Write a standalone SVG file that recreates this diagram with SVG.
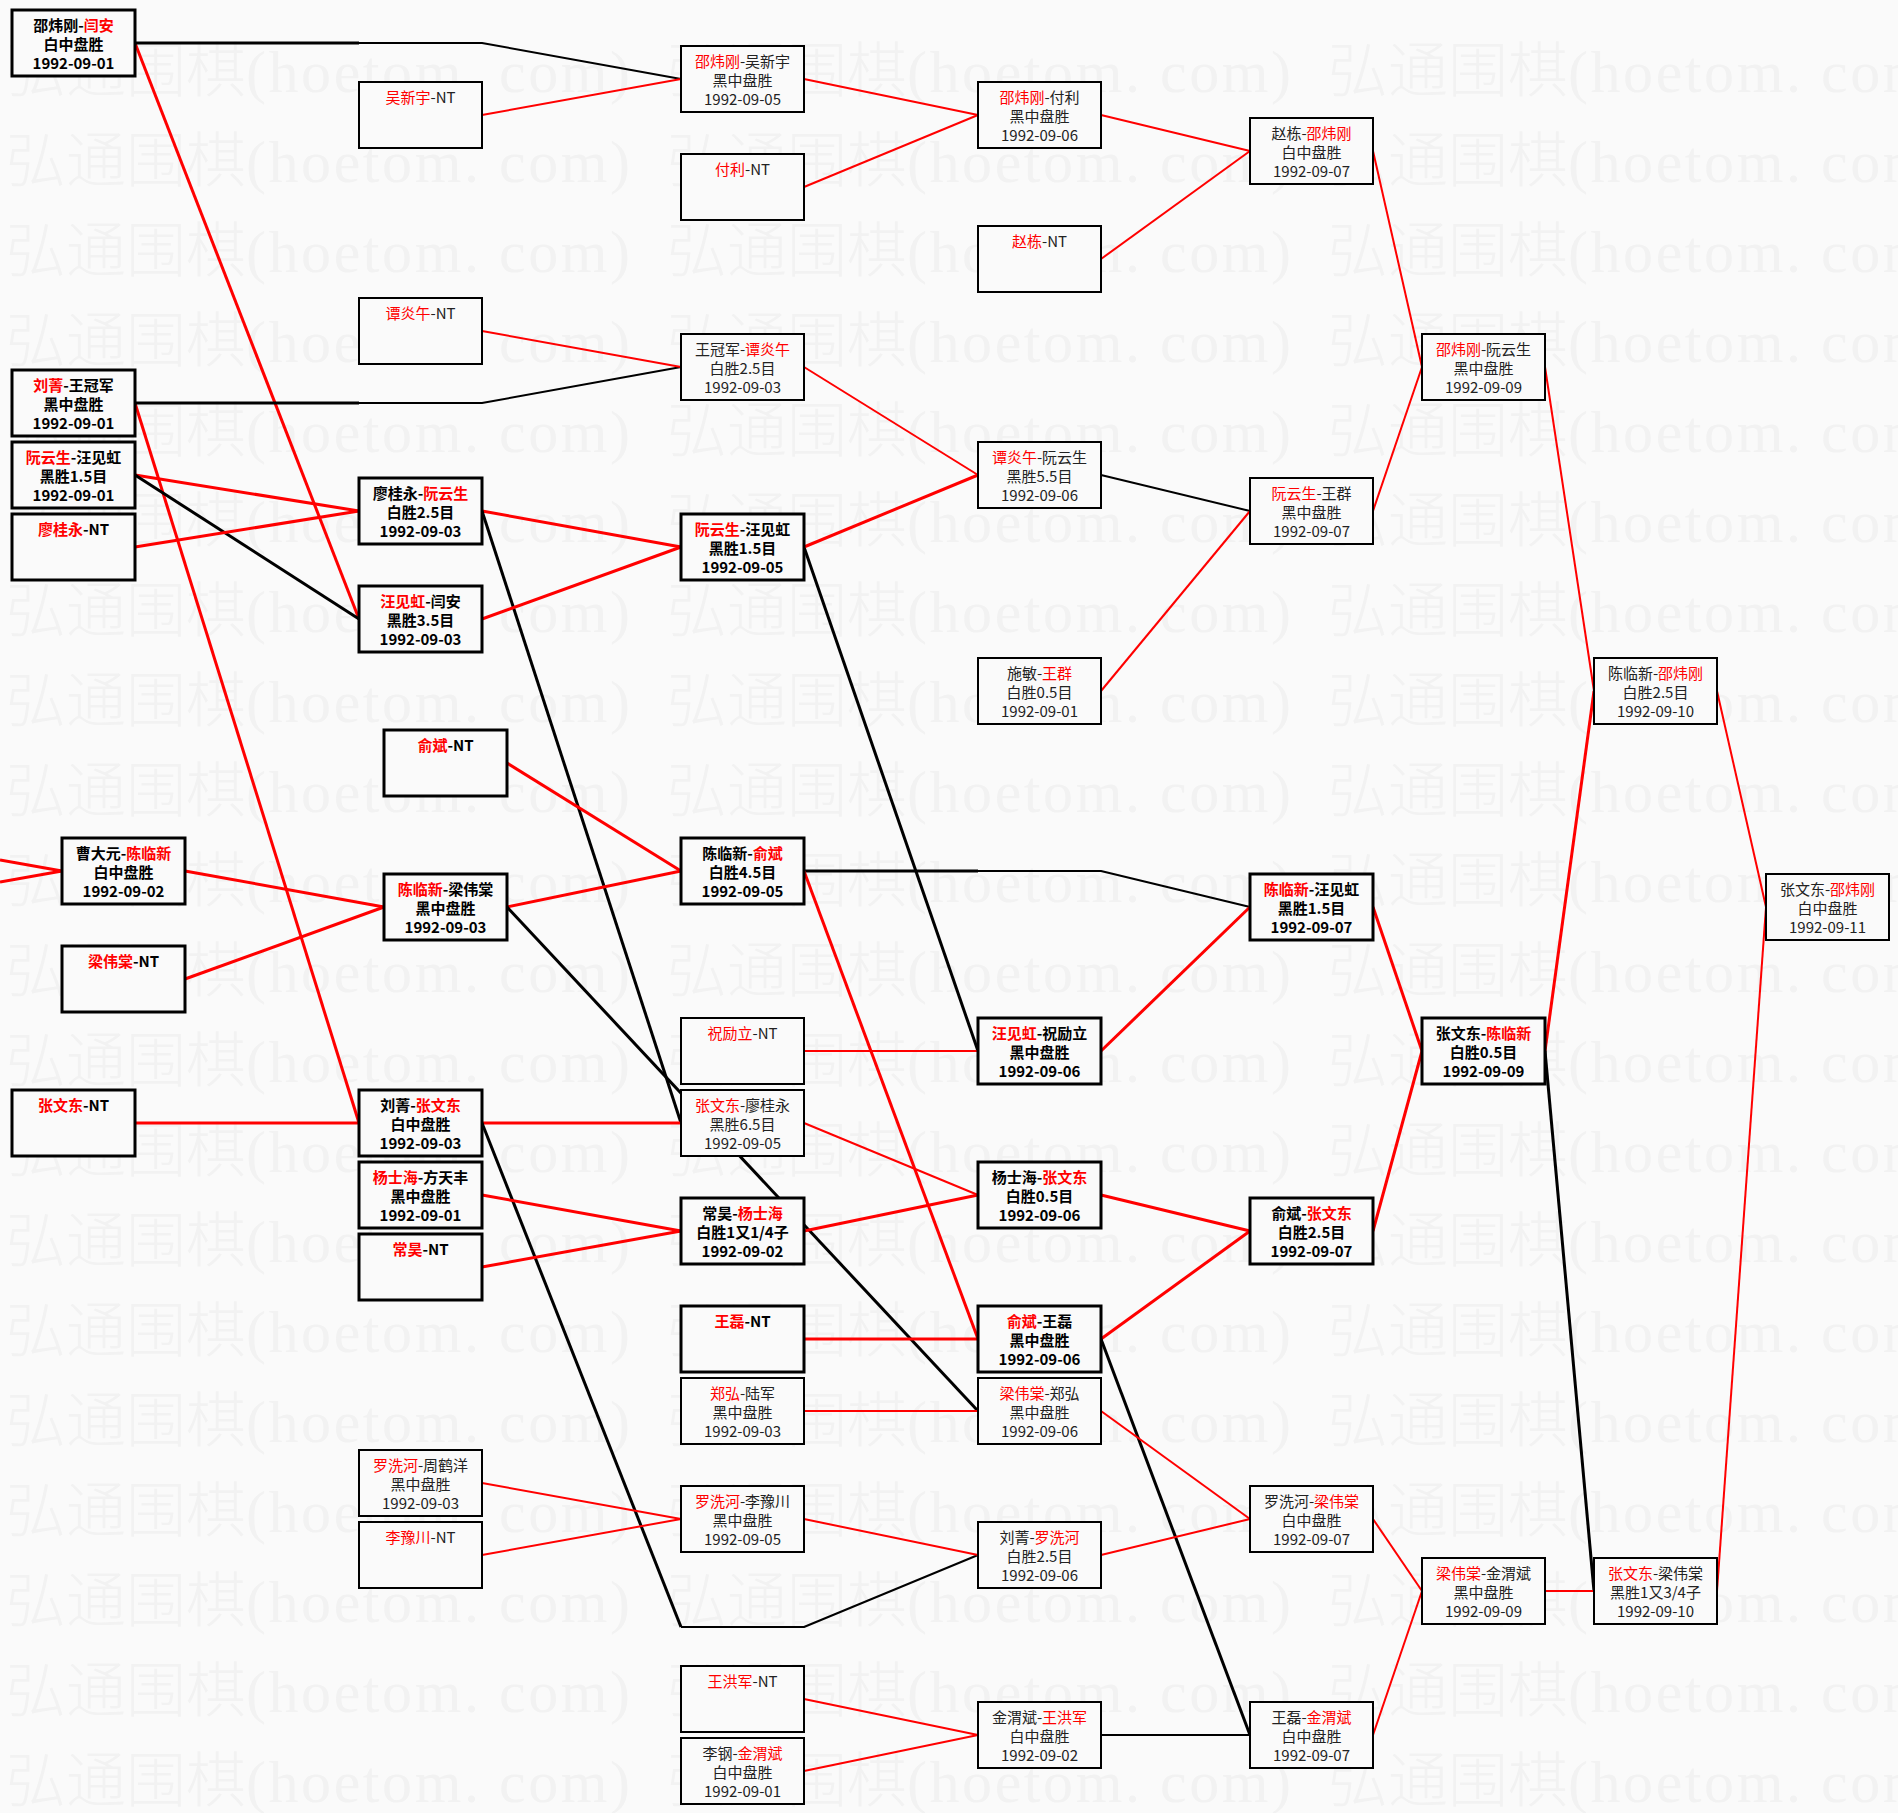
<svg xmlns="http://www.w3.org/2000/svg" width="1898" height="1813" viewBox="0 0 1898 1813">
<style>
.bg{fill:#fafafa}
.wm{font-family:"Noto Sans CJK SC","Liberation Serif",serif;font-size:60px;font-weight:200;fill:#f2f2f2}
.wml{font-family:"Liberation Serif",serif}
.node rect{fill:#fafafa;stroke:#000}
.tk rect{stroke-width:3}
.tn rect{stroke-width:2}
.node text{font-family:"Noto Sans CJK SC","Noto Sans",sans-serif;font-size:15px;text-anchor:middle;fill:#222}
.tk text{font-weight:bold;fill:#000}
.node text .r{fill:#f00}
.cn path{fill:none;stroke-linejoin:round}
.R{stroke:#f00}
.K{stroke:#000}
.w3{stroke-width:3}
.w2{stroke-width:2}
</style>
<defs>
<pattern id="wmp" patternUnits="userSpaceOnUse" x="6" y="32" width="661" height="90">
<text class="wm" x="0" y="60">弘通围棋<tspan class="wml" textLength="384" lengthAdjust="spacing">(hoetom. com)</tspan></text>
</pattern>
</defs>
<rect class="bg" x="0" y="0" width="1898" height="1813"/>
<rect x="0" y="32" width="1898" height="1781" fill="url(#wmp)"/>

<g id="connectors" class="cn">
<path class="R w3" d="M135,43 L359,619"/>
<path class="K w3" d="M135,43 H359"/>
<path class="K w2" d="M359,43 H482 L681,79"/>
<path class="R w3" d="M135,403 L359,1123"/>
<path class="K w3" d="M135,403 H359"/>
<path class="K w2" d="M359,403 H482 L681,367"/>
<path class="R w3" d="M135,475 L359,511"/>
<path class="K w3" d="M135,475 L359,619"/>
<path class="R w3" d="M135,547 L359,511"/>
<path class="R w3" d="M135,1123 H359"/>
<path class="R w3" d="M0,860 L62,871"/>
<path class="R w3" d="M0,882 L62,871"/>
<path class="R w3" d="M185,871 L384,907"/>
<path class="R w3" d="M185,979 L384,907"/>
<path class="R w3" d="M482,511 L681,547"/>
<path class="K w3" d="M482,511 L681,1123"/>
<path class="R w3" d="M482,619 L681,547"/>
<path class="R w3" d="M482,1123 H681"/>
<path class="K w3" d="M482,1123 L681,1627"/>
<path class="K w2" d="M681,1627 H804 L978,1555"/>
<path class="R w3" d="M482,1195 L681,1231"/>
<path class="R w3" d="M482,1267 L681,1231"/>
<path class="R w3" d="M507,763 L681,871"/>
<path class="R w3" d="M507,907 L681,871"/>
<path class="K w3" d="M507,907 L978,1411"/>
<path class="K w3" d="M804,547 L978,1051"/>
<path class="R w3" d="M804,547 L978,475"/>
<path class="K w3" d="M804,871 H978"/>
<path class="K w2" d="M978,871 H1101 L1250,907"/>
<path class="R w3" d="M804,871 L978,1339"/>
<path class="R w3" d="M804,1231 L978,1195"/>
<path class="R w3" d="M804,1339 H978"/>
<path class="R w3" d="M1101,1051 L1250,907"/>
<path class="R w3" d="M1101,1195 L1250,1231"/>
<path class="R w3" d="M1101,1339 L1250,1231"/>
<path class="K w3" d="M1101,1339 L1250,1735"/>
<path class="R w3" d="M1373,907 L1422,1051"/>
<path class="R w3" d="M1373,1231 L1422,1051"/>
<path class="R w3" d="M1545,1051 L1594,691"/>
<path class="K w3" d="M1545,1051 L1594,1591"/>
<path class="R w2" d="M482,115 L681,79"/>
<path class="R w2" d="M482,331 L681,367"/>
<path class="R w2" d="M482,1483 L681,1519"/>
<path class="R w2" d="M482,1555 L681,1519"/>
<path class="R w2" d="M804,79 L978,115"/>
<path class="R w2" d="M804,187 L978,115"/>
<path class="R w2" d="M804,367 L978,475"/>
<path class="R w2" d="M804,1051 H978"/>
<path class="R w2" d="M804,1123 L978,1195"/>
<path class="R w2" d="M804,1411 H978"/>
<path class="R w2" d="M804,1519 L978,1555"/>
<path class="R w2" d="M804,1699 L978,1735"/>
<path class="R w2" d="M804,1771 L978,1735"/>
<path class="R w2" d="M1101,115 L1250,151"/>
<path class="R w2" d="M1101,259 L1250,151"/>
<path class="K w2" d="M1101,475 L1250,511"/>
<path class="R w2" d="M1101,691 L1250,511"/>
<path class="R w2" d="M1101,1411 L1250,1519"/>
<path class="R w2" d="M1101,1555 L1250,1519"/>
<path class="K w2" d="M1101,1735 H1250"/>
<path class="R w2" d="M1373,151 L1422,367"/>
<path class="R w2" d="M1373,511 L1422,367"/>
<path class="R w2" d="M1373,1519 L1422,1591"/>
<path class="R w2" d="M1373,1735 L1422,1591"/>
<path class="R w2" d="M1545,367 L1594,691"/>
<path class="R w2" d="M1545,1591 H1594"/>
<path class="R w2" d="M1717,691 L1766,907"/>
<path class="R w2" d="M1717,1591 L1766,907"/>
</g>

<g id="nA1" class="node tk" transform="translate(12,10)"><rect width="123" height="66"/><text x="61.5" y="21">邵炜刚-<tspan class="r">闫安</tspan></text><text x="61.5" y="40">白中盘胜</text><text x="61.5" y="59">1992-09-01</text></g>
<g id="nA2" class="node tk" transform="translate(12,370)"><rect width="123" height="66"/><text x="61.5" y="21"><tspan class="r">刘菁</tspan>-王冠军</text><text x="61.5" y="40">黑中盘胜</text><text x="61.5" y="59">1992-09-01</text></g>
<g id="nA3" class="node tk" transform="translate(12,442)"><rect width="123" height="66"/><text x="61.5" y="21"><tspan class="r">阮云生</tspan>-汪见虹</text><text x="61.5" y="40">黑胜1.5目</text><text x="61.5" y="59">1992-09-01</text></g>
<g id="nA4" class="node tk" transform="translate(12,514)"><rect width="123" height="66"/><text x="61.5" y="21"><tspan class="r">廖桂永</tspan>-NT</text></g>
<g id="nA5" class="node tk" transform="translate(12,1090)"><rect width="123" height="66"/><text x="61.5" y="21"><tspan class="r">张文东</tspan>-NT</text></g>
<g id="nB1" class="node tk" transform="translate(62,838)"><rect width="123" height="66"/><text x="61.5" y="21">曹大元-<tspan class="r">陈临新</tspan></text><text x="61.5" y="40">白中盘胜</text><text x="61.5" y="59">1992-09-02</text></g>
<g id="nB2" class="node tk" transform="translate(62,946)"><rect width="123" height="66"/><text x="61.5" y="21"><tspan class="r">梁伟棠</tspan>-NT</text></g>

<g id="nC1" class="node tn" transform="translate(359,82)"><rect width="123" height="66"/><text x="61.5" y="21"><tspan class="r">吴新宇</tspan>-NT</text></g>
<g id="nC2" class="node tn" transform="translate(359,298)"><rect width="123" height="66"/><text x="61.5" y="21"><tspan class="r">谭炎午</tspan>-NT</text></g>
<g id="nC3" class="node tk" transform="translate(359,478)"><rect width="123" height="66"/><text x="61.5" y="21">廖桂永-<tspan class="r">阮云生</tspan></text><text x="61.5" y="40">白胜2.5目</text><text x="61.5" y="59">1992-09-03</text></g>
<g id="nC4" class="node tk" transform="translate(359,586)"><rect width="123" height="66"/><text x="61.5" y="21"><tspan class="r">汪见虹</tspan>-闫安</text><text x="61.5" y="40">黑胜3.5目</text><text x="61.5" y="59">1992-09-03</text></g>
<g id="nC5" class="node tk" transform="translate(359,1090)"><rect width="123" height="66"/><text x="61.5" y="21">刘菁-<tspan class="r">张文东</tspan></text><text x="61.5" y="40">白中盘胜</text><text x="61.5" y="59">1992-09-03</text></g>
<g id="nC6" class="node tk" transform="translate(359,1162)"><rect width="123" height="66"/><text x="61.5" y="21"><tspan class="r">杨士海</tspan>-方天丰</text><text x="61.5" y="40">黑中盘胜</text><text x="61.5" y="59">1992-09-01</text></g>
<g id="nC7" class="node tk" transform="translate(359,1234)"><rect width="123" height="66"/><text x="61.5" y="21"><tspan class="r">常昊</tspan>-NT</text></g>
<g id="nC8" class="node tn" transform="translate(359,1450)"><rect width="123" height="66"/><text x="61.5" y="21"><tspan class="r">罗洗河</tspan>-周鹤洋</text><text x="61.5" y="40">黑中盘胜</text><text x="61.5" y="59">1992-09-03</text></g>
<g id="nC9" class="node tn" transform="translate(359,1522)"><rect width="123" height="66"/><text x="61.5" y="21"><tspan class="r">李豫川</tspan>-NT</text></g>
<g id="nD1" class="node tk" transform="translate(384,730)"><rect width="123" height="66"/><text x="61.5" y="21"><tspan class="r">俞斌</tspan>-NT</text></g>
<g id="nD2" class="node tk" transform="translate(384,874)"><rect width="123" height="66"/><text x="61.5" y="21"><tspan class="r">陈临新</tspan>-梁伟棠</text><text x="61.5" y="40">黑中盘胜</text><text x="61.5" y="59">1992-09-03</text></g>

<g id="nE1" class="node tn" transform="translate(681,46)"><rect width="123" height="66"/><text x="61.5" y="21"><tspan class="r">邵炜刚</tspan>-吴新宇</text><text x="61.5" y="40">黑中盘胜</text><text x="61.5" y="59">1992-09-05</text></g>
<g id="nE2" class="node tn" transform="translate(681,154)"><rect width="123" height="66"/><text x="61.5" y="21"><tspan class="r">付利</tspan>-NT</text></g>
<g id="nE3" class="node tn" transform="translate(681,334)"><rect width="123" height="66"/><text x="61.5" y="21">王冠军-<tspan class="r">谭炎午</tspan></text><text x="61.5" y="40">白胜2.5目</text><text x="61.5" y="59">1992-09-03</text></g>
<g id="nE4" class="node tk" transform="translate(681,514)"><rect width="123" height="66"/><text x="61.5" y="21"><tspan class="r">阮云生</tspan>-汪见虹</text><text x="61.5" y="40">黑胜1.5目</text><text x="61.5" y="59">1992-09-05</text></g>
<g id="nE5" class="node tk" transform="translate(681,838)"><rect width="123" height="66"/><text x="61.5" y="21">陈临新-<tspan class="r">俞斌</tspan></text><text x="61.5" y="40">白胜4.5目</text><text x="61.5" y="59">1992-09-05</text></g>
<g id="nE6" class="node tn" transform="translate(681,1018)"><rect width="123" height="66"/><text x="61.5" y="21"><tspan class="r">祝励立</tspan>-NT</text></g>
<g id="nE7" class="node tn" transform="translate(681,1090)"><rect width="123" height="66"/><text x="61.5" y="21"><tspan class="r">张文东</tspan>-廖桂永</text><text x="61.5" y="40">黑胜6.5目</text><text x="61.5" y="59">1992-09-05</text></g>
<g id="nE8" class="node tk" transform="translate(681,1198)"><rect width="123" height="66"/><text x="61.5" y="21">常昊-<tspan class="r">杨士海</tspan></text><text x="61.5" y="40">白胜1又1/4子</text><text x="61.5" y="59">1992-09-02</text></g>
<g id="nE9" class="node tk" transform="translate(681,1306)"><rect width="123" height="66"/><text x="61.5" y="21"><tspan class="r">王磊</tspan>-NT</text></g>
<g id="nE10" class="node tn" transform="translate(681,1378)"><rect width="123" height="66"/><text x="61.5" y="21"><tspan class="r">郑弘</tspan>-陆军</text><text x="61.5" y="40">黑中盘胜</text><text x="61.5" y="59">1992-09-03</text></g>
<g id="nE11" class="node tn" transform="translate(681,1486)"><rect width="123" height="66"/><text x="61.5" y="21"><tspan class="r">罗洗河</tspan>-李豫川</text><text x="61.5" y="40">黑中盘胜</text><text x="61.5" y="59">1992-09-05</text></g>
<g id="nE12" class="node tn" transform="translate(681,1666)"><rect width="123" height="66"/><text x="61.5" y="21"><tspan class="r">王洪军</tspan>-NT</text></g>
<g id="nE13" class="node tn" transform="translate(681,1738)"><rect width="123" height="66"/><text x="61.5" y="21">李钢-<tspan class="r">金渭斌</tspan></text><text x="61.5" y="40">白中盘胜</text><text x="61.5" y="59">1992-09-01</text></g>

<g id="nF1" class="node tn" transform="translate(978,82)"><rect width="123" height="66"/><text x="61.5" y="21"><tspan class="r">邵炜刚</tspan>-付利</text><text x="61.5" y="40">黑中盘胜</text><text x="61.5" y="59">1992-09-06</text></g>
<g id="nF2" class="node tn" transform="translate(978,226)"><rect width="123" height="66"/><text x="61.5" y="21"><tspan class="r">赵栋</tspan>-NT</text></g>
<g id="nF3" class="node tn" transform="translate(978,442)"><rect width="123" height="66"/><text x="61.5" y="21"><tspan class="r">谭炎午</tspan>-阮云生</text><text x="61.5" y="40">黑胜5.5目</text><text x="61.5" y="59">1992-09-06</text></g>
<g id="nF4" class="node tn" transform="translate(978,658)"><rect width="123" height="66"/><text x="61.5" y="21">施敏-<tspan class="r">王群</tspan></text><text x="61.5" y="40">白胜0.5目</text><text x="61.5" y="59">1992-09-01</text></g>
<g id="nF5" class="node tk" transform="translate(978,1018)"><rect width="123" height="66"/><text x="61.5" y="21"><tspan class="r">汪见虹</tspan>-祝励立</text><text x="61.5" y="40">黑中盘胜</text><text x="61.5" y="59">1992-09-06</text></g>
<g id="nF6" class="node tk" transform="translate(978,1162)"><rect width="123" height="66"/><text x="61.5" y="21">杨士海-<tspan class="r">张文东</tspan></text><text x="61.5" y="40">白胜0.5目</text><text x="61.5" y="59">1992-09-06</text></g>
<g id="nF7" class="node tk" transform="translate(978,1306)"><rect width="123" height="66"/><text x="61.5" y="21"><tspan class="r">俞斌</tspan>-王磊</text><text x="61.5" y="40">黑中盘胜</text><text x="61.5" y="59">1992-09-06</text></g>
<g id="nF8" class="node tn" transform="translate(978,1378)"><rect width="123" height="66"/><text x="61.5" y="21"><tspan class="r">梁伟棠</tspan>-郑弘</text><text x="61.5" y="40">黑中盘胜</text><text x="61.5" y="59">1992-09-06</text></g>
<g id="nF9" class="node tn" transform="translate(978,1522)"><rect width="123" height="66"/><text x="61.5" y="21">刘菁-<tspan class="r">罗洗河</tspan></text><text x="61.5" y="40">白胜2.5目</text><text x="61.5" y="59">1992-09-06</text></g>
<g id="nF10" class="node tn" transform="translate(978,1702)"><rect width="123" height="66"/><text x="61.5" y="21">金渭斌-<tspan class="r">王洪军</tspan></text><text x="61.5" y="40">白中盘胜</text><text x="61.5" y="59">1992-09-02</text></g>

<g id="nG1" class="node tn" transform="translate(1250,118)"><rect width="123" height="66"/><text x="61.5" y="21">赵栋-<tspan class="r">邵炜刚</tspan></text><text x="61.5" y="40">白中盘胜</text><text x="61.5" y="59">1992-09-07</text></g>
<g id="nG2" class="node tn" transform="translate(1250,478)"><rect width="123" height="66"/><text x="61.5" y="21"><tspan class="r">阮云生</tspan>-王群</text><text x="61.5" y="40">黑中盘胜</text><text x="61.5" y="59">1992-09-07</text></g>
<g id="nG3" class="node tk" transform="translate(1250,874)"><rect width="123" height="66"/><text x="61.5" y="21"><tspan class="r">陈临新</tspan>-汪见虹</text><text x="61.5" y="40">黑胜1.5目</text><text x="61.5" y="59">1992-09-07</text></g>
<g id="nG4" class="node tk" transform="translate(1250,1198)"><rect width="123" height="66"/><text x="61.5" y="21">俞斌-<tspan class="r">张文东</tspan></text><text x="61.5" y="40">白胜2.5目</text><text x="61.5" y="59">1992-09-07</text></g>
<g id="nG5" class="node tn" transform="translate(1250,1486)"><rect width="123" height="66"/><text x="61.5" y="21">罗洗河-<tspan class="r">梁伟棠</tspan></text><text x="61.5" y="40">白中盘胜</text><text x="61.5" y="59">1992-09-07</text></g>
<g id="nG6" class="node tn" transform="translate(1250,1702)"><rect width="123" height="66"/><text x="61.5" y="21">王磊-<tspan class="r">金渭斌</tspan></text><text x="61.5" y="40">白中盘胜</text><text x="61.5" y="59">1992-09-07</text></g>

<g id="nH1" class="node tn" transform="translate(1422,334)"><rect width="123" height="66"/><text x="61.5" y="21"><tspan class="r">邵炜刚</tspan>-阮云生</text><text x="61.5" y="40">黑中盘胜</text><text x="61.5" y="59">1992-09-09</text></g>
<g id="nH2" class="node tk" transform="translate(1422,1018)"><rect width="123" height="66"/><text x="61.5" y="21">张文东-<tspan class="r">陈临新</tspan></text><text x="61.5" y="40">白胜0.5目</text><text x="61.5" y="59">1992-09-09</text></g>
<g id="nH3" class="node tn" transform="translate(1422,1558)"><rect width="123" height="66"/><text x="61.5" y="21"><tspan class="r">梁伟棠</tspan>-金渭斌</text><text x="61.5" y="40">黑中盘胜</text><text x="61.5" y="59">1992-09-09</text></g>

<g id="nI1" class="node tn" transform="translate(1594,658)"><rect width="123" height="66"/><text x="61.5" y="21">陈临新-<tspan class="r">邵炜刚</tspan></text><text x="61.5" y="40">白胜2.5目</text><text x="61.5" y="59">1992-09-10</text></g>
<g id="nI2" class="node tn" transform="translate(1594,1558)"><rect width="123" height="66"/><text x="61.5" y="21"><tspan class="r">张文东</tspan>-梁伟棠</text><text x="61.5" y="40">黑胜1又3/4子</text><text x="61.5" y="59">1992-09-10</text></g>

<g id="nJ1" class="node tn" transform="translate(1766,874)"><rect width="123" height="66"/><text x="61.5" y="21">张文东-<tspan class="r">邵炜刚</tspan></text><text x="61.5" y="40">白中盘胜</text><text x="61.5" y="59">1992-09-11</text></g>
</svg>
